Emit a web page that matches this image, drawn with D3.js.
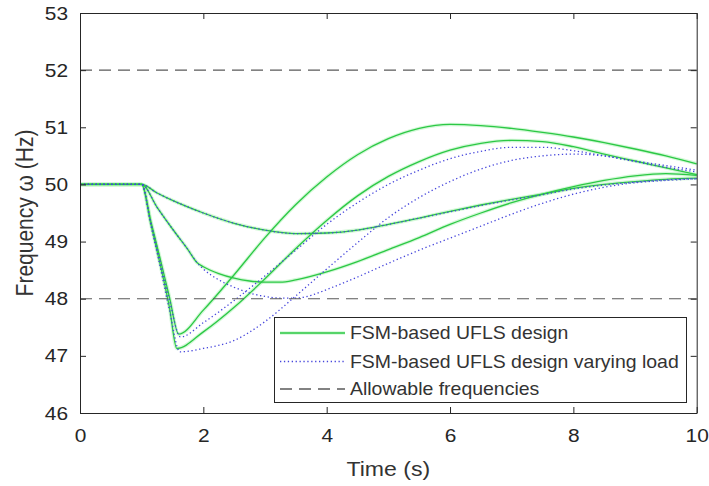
<!DOCTYPE html>
<html>
<head>
<meta charset="utf-8">
<script src="https://cdn.jsdelivr.net/npm/d3@7/dist/d3.min.js"></script>
<style>
  html, body { margin: 0; padding: 0; background: #fff; }
  svg { display: block; }
  text { font-family: "Liberation Sans", Arial, Helvetica, sans-serif; fill: #262626; }
</style>
</head>
<body>
<svg id="chart" width="709" height="486"></svg>
<script>
// Frequency response of four UFLS scenarios, nominal load (solid) and varying load (dotted)

// Axis ticks
const timeTicks = [0, 2, 4, 6, 8, 10];
const freqTicks = [46, 47, 48, 49, 50, 51, 52, 53];

// Allowable frequency band
const allowableLimits = [48, 52];

// Scenario A
const timeA = [0, 1, 1.15, 1.3, 1.45, 1.6, 2, 2.5, 3, 3.5, 4, 4.5, 5, 5.5, 6, 6.5, 7, 7.5, 8, 8.5, 9, 9.5, 10];
const fsmA = [50, 50, 49.35, 48.7, 48.03, 47.38, 47.8, 48.42, 49.07, 49.65, 50.13, 50.52, 50.8, 50.98, 51.05, 51.03, 50.98, 50.91, 50.83, 50.73, 50.62, 50.5, 50.36];
const timeVarA = [0, 1, 1.15, 1.3, 1.45, 1.63, 2, 2.5, 3, 3.5, 4, 4.5, 5, 5.5, 6, 6.5, 7, 7.5, 8, 8.5, 9, 9.5, 10];
const fsmVarA = [50, 50, 49.33, 48.66, 47.98, 47.33, 47.58, 47.97, 48.4, 48.85, 49.3, 49.68, 50.0, 50.25, 50.45, 50.58, 50.65, 50.65, 50.59, 50.5, 50.41, 50.33, 50.25];

// Scenario B
const timeB = [0, 1, 1.15, 1.3, 1.45, 1.57, 2, 2.5, 3, 3.5, 4, 4.5, 5, 5.5, 6, 6.5, 7, 7.5, 8, 8.5, 9, 9.5, 10];
const fsmB = [50, 50, 49.3, 48.6, 47.85, 47.13, 47.42, 47.85, 48.35, 48.88, 49.37, 49.8, 50.14, 50.4, 50.6, 50.72, 50.77, 50.75, 50.66, 50.53, 50.41, 50.29, 50.17];
const timeVarB = [0, 1, 1.15, 1.3, 1.45, 1.62, 2, 2.5, 3, 3.5, 4, 4.5, 5, 5.5, 6, 6.5, 7, 7.5, 8, 8.5, 9, 9.5, 10];
const fsmVarB = [50, 50, 49.28, 48.56, 47.8, 47.07, 47.13, 47.27, 47.6, 48.05, 48.52, 48.98, 49.42, 49.77, 50.05, 50.27, 50.42, 50.5, 50.53, 50.5, 50.4, 50.3, 50.22];

// Scenario C
const timeC = [0, 1, 1.25, 1.5, 1.75, 1.9, 2, 2.25, 2.5, 2.75, 3, 3.25, 3.5, 4, 4.5, 5, 5.5, 6, 6.5, 7, 7.5, 8, 8.5, 9, 9.5, 10];
const fsmC = [50, 50, 49.6, 49.22, 48.86, 48.63, 48.56, 48.44, 48.36, 48.31, 48.29, 48.29, 48.33, 48.47, 48.65, 48.86, 49.07, 49.3, 49.5, 49.68, 49.83, 49.96, 50.07, 50.15, 50.19, 50.16];
const timeVarC = [0, 1, 1.25, 1.5, 1.75, 1.9, 2, 2.25, 2.5, 2.75, 3, 3.25, 3.5, 3.75, 4, 4.5, 5, 5.5, 6, 6.5, 7, 7.5, 8, 8.5, 9, 9.5, 10];
const fsmVarC = [50, 50, 49.6, 49.22, 48.86, 48.63, 48.52, 48.33, 48.2, 48.1, 48.04, 48.01, 48.01, 48.06, 48.16, 48.38, 48.62, 48.85, 49.06, 49.27, 49.48, 49.67, 49.83, 49.95, 50.03, 50.07, 50.1];

// Scenario D
const timeD = [0, 1, 1.25, 1.5, 2, 2.5, 3, 3.5, 4, 4.5, 5, 5.5, 6, 6.5, 7, 7.5, 8, 8.5, 9, 9.5, 10];
const fsmD = [50, 50, 49.85, 49.72, 49.5, 49.32, 49.2, 49.14, 49.15, 49.2, 49.3, 49.41, 49.53, 49.64, 49.74, 49.83, 49.93, 50.0, 50.05, 50.09, 50.11];
const fsmVarD = [50, 50, 49.85, 49.72, 49.5, 49.32, 49.2, 49.14, 49.15, 49.2, 49.3, 49.41, 49.52, 49.63, 49.73, 49.82, 49.92, 49.99, 50.04, 50.08, 50.1];

const legendLabels = ["FSM-based UFLS design", "FSM-based UFLS design varying load", "Allowable frequencies"];

const solidSeries = [[timeA, fsmA], [timeB, fsmB], [timeC, fsmC], [timeD, fsmD]];
const dottedSeries = [[timeVarA, fsmVarA], [timeVarB, fsmVarB], [timeVarC, fsmVarC], [timeD, fsmVarD]];

const GREEN = "#2cc845";
const GREEN_HALO = "rgba(130,235,140,0.35)";
const BLUE = "#4646dc";
const DASH = "#5a5a5a";
const AXIS = "#262626";
const TEXT = "#333333";
const STRETCH = 1.1;

const svg = d3.select("#chart");
const plot = { left: 80, right: 696.7, top: 13, bottom: 413 };

const x = d3.scaleLinear().domain([0, 10]).range([plot.left, plot.right]);
const y = d3.scaleLinear().domain([46, 53]).range([plot.bottom, plot.top]);

const line = d3.line()
  .x(d => x(d[0]))
  .y(d => y(d[1]))
  .curve(d3.curveMonotoneX);

const zip = (ts, vs) => ts.map((t, i) => [t, vs[i]]);

// widen text horizontally about its own anchor
function stretch(sel) {
  sel.each(function () {
    const t = d3.select(this);
    const ax = +(t.attr("x") || 0);
    t.attr("transform", `translate(${ax},0) scale(${STRETCH},1) translate(${-ax},0)`);
  });
}

const g = svg.append("g");

// solid curves with a soft halo
solidSeries.forEach(([ts, vs]) => {
  g.append("path").attr("d", line(zip(ts, vs)))
    .attr("fill", "none").attr("stroke", GREEN_HALO).attr("stroke-width", 3.6);
});
solidSeries.forEach(([ts, vs]) => {
  g.append("path").attr("d", line(zip(ts, vs)))
    .attr("fill", "none").attr("stroke", GREEN).attr("stroke-width", 1.3);
});

// dotted curves
dottedSeries.forEach(([ts, vs]) => {
  g.append("path").attr("d", line(zip(ts, vs)))
    .attr("fill", "none").attr("stroke", BLUE).attr("stroke-width", 1.3)
    .attr("stroke-dasharray", "1.3,2.6");
});

// allowable band limits
allowableLimits.forEach(v => {
  g.append("line")
    .attr("x1", x(0)).attr("x2", x(10))
    .attr("y1", y(v)).attr("y2", y(v))
    .attr("stroke", DASH).attr("stroke-width", 1.1)
    .attr("stroke-dasharray", "12,7");
});

// axes
const fontTick = "19px";
const intFmt = d3.format("d");
const xAxis = svg.append("g").attr("transform", `translate(0,${plot.bottom})`)
  .call(d3.axisBottom(x).tickValues(timeTicks).tickFormat(intFmt).tickSizeInner(-6).tickSizeOuter(0).tickPadding(16));
const yAxis = svg.append("g").attr("transform", `translate(${plot.left},0)`)
  .call(d3.axisLeft(y).tickValues(freqTicks).tickFormat(intFmt).tickSizeInner(-6).tickSizeOuter(0).tickPadding(12));
const xTop = svg.append("g").attr("transform", `translate(0,${plot.top})`)
  .call(d3.axisTop(x).tickValues(timeTicks).tickSizeInner(-6).tickSizeOuter(0).tickFormat(""));
const yRight = svg.append("g").attr("transform", `translate(${plot.right},0)`)
  .call(d3.axisRight(y).tickValues(freqTicks).tickSizeInner(-6).tickSizeOuter(0).tickFormat(""));

[xAxis, yAxis, xTop, yRight].forEach(a => {
  a.select(".domain").attr("stroke", AXIS).attr("stroke-width", 1);
  a.selectAll(".tick line").attr("stroke", AXIS).attr("stroke-width", 1);
  a.selectAll(".tick text")
    .attr("fill", TEXT)
    .style("font-family", '"Liberation Sans", Arial, sans-serif')
    .style("font-size", fontTick);
});
xAxis.selectAll(".tick text").call(stretch);
yAxis.selectAll(".tick text").call(stretch);

// axis labels
svg.append("text")
  .attr("x", (plot.left + plot.right) / 2).attr("y", 476.5)
  .attr("text-anchor", "middle")
  .style("font-size", "21px")
  .style("fill", TEXT)
  .text("Time (s)")
  .call(stretch);

svg.append("text")
  .attr("transform", `translate(33,${(plot.top + plot.bottom) / 2}) rotate(-90) scale(1,${STRETCH})`)
  .attr("text-anchor", "middle")
  .style("font-size", "21px")
  .style("fill", TEXT)
  .text("Frequency ω (Hz)");

// legend
const legend = svg.append("g");
const lg = { x: 274.5, y: 317.5, w: 412, h: 85 };
legend.append("rect")
  .attr("x", lg.x).attr("y", lg.y).attr("width", lg.w).attr("height", lg.h)
  .attr("fill", "#fff").attr("stroke", AXIS).attr("stroke-width", 1);

const legendRows = [333, 361.5, 389];
const legendStyles = [
  { stroke: GREEN, dash: null, halo: true },
  { stroke: BLUE, dash: "1.3,2.6", halo: false },
  { stroke: DASH, dash: "12,7", halo: false }
];
legendLabels.forEach((label, i) => {
  const st = legendStyles[i];
  if (st.halo) {
    legend.append("line")
      .attr("x1", 280).attr("x2", 345).attr("y1", legendRows[i]).attr("y2", legendRows[i])
      .attr("stroke", GREEN_HALO).attr("stroke-width", 3.6);
  }
  legend.append("line")
    .attr("x1", 280).attr("x2", 345).attr("y1", legendRows[i]).attr("y2", legendRows[i])
    .attr("stroke", st.stroke).attr("stroke-width", 1.3)
    .attr("stroke-dasharray", st.dash);
  legend.append("text")
    .attr("x", 350).attr("y", legendRows[i]).attr("dy", "0.36em")
    .style("font-size", "17.7px")
    .style("fill", TEXT)
    .text(label)
    .call(stretch);
});
</script>
</body>
</html>
